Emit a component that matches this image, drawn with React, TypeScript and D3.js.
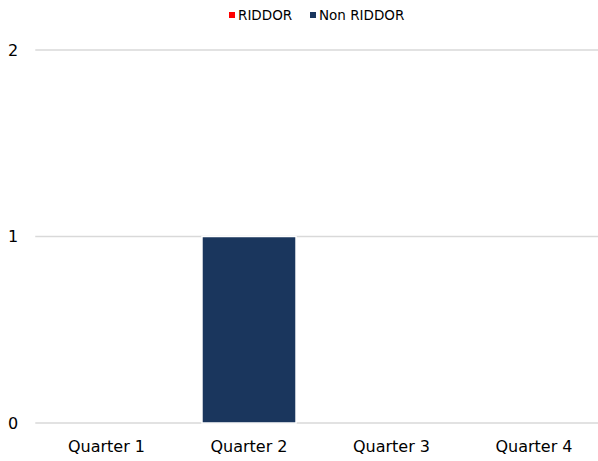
import React from "react";
import * as d3 from "d3";

const categories = ["Quarter 1", "Quarter 2", "Quarter 3", "Quarter 4"];
const riddor = [0, 0, 0, 0];
const nonRiddor = [0, 1, 0, 0];
const yTicks = [0, 1, 2];
const seriesNames = ["RIDDOR", "Non RIDDOR"];
const colors = ["#ff0000", "#1a365d"];

export default function App() {
  const W = 598, H = 461;
  const left = 35.25, right = 605.25, top = 50, bottom = 423;
  const x = d3.scaleBand().domain(categories).range([left, right]).paddingInner(0.34).paddingOuter(0.17);
  const y = d3.scaleLinear().domain([0, 2]).range([bottom, top]);
  const data = categories.map((c, i) => ({ cat: c, RIDDOR: riddor[i], "Non RIDDOR": nonRiddor[i] }));
  const stack = d3.stack<any>().keys(seriesNames)(data);
  const font = "Tahoma, 'DejaVu Sans', sans-serif";
  return (
    <svg width={W} height={H} style={{ position: "absolute", left: 0, top: 0 }} fontFamily={font}>
      <rect width={W} height={H} fill="#fff" />
      {yTicks.map(t => (
        <g key={t}>
          <line x1={left} x2={W} y1={y(t)} y2={y(t)} stroke="#d9d9d9" strokeWidth={1.5} />
          <text x={13} y={y(t)} dy="0.35em" textAnchor="middle" fontSize={16} fill="#000">{t}</text>
        </g>
      ))}
      {stack.map((s, si) => (
        <g key={si} fill={colors[si]}>
          {s.map((d, i) => {
            const h = y(d[0]) - y(d[1]);
            if (h <= 0) return null;
            return <rect key={i} x={x(categories[i])!} y={y(d[1])} width={x.bandwidth()} height={h} stroke="#fff" strokeWidth={1.5} />;
          })}
        </g>
      ))}
      {categories.map(c => (
        <text key={c} x={x(c)! + x.bandwidth() / 2} y={446} dy="0.35em" textAnchor="middle" fontSize={16} fill="#000">{c}</text>
      ))}
      <g>
        <rect x={229} y={12} width={6} height={6} fill={colors[0]} />
        <text x={238} y={15} dy="0.35em" fontSize={13.5} fill="#000">{seriesNames[0]}</text>
        <rect x={310} y={12} width={6} height={6} fill={colors[1]} />
        <text x={319} y={15} dy="0.35em" fontSize={13.5} fill="#000">{seriesNames[1]}</text>
      </g>
    </svg>
  );
}
